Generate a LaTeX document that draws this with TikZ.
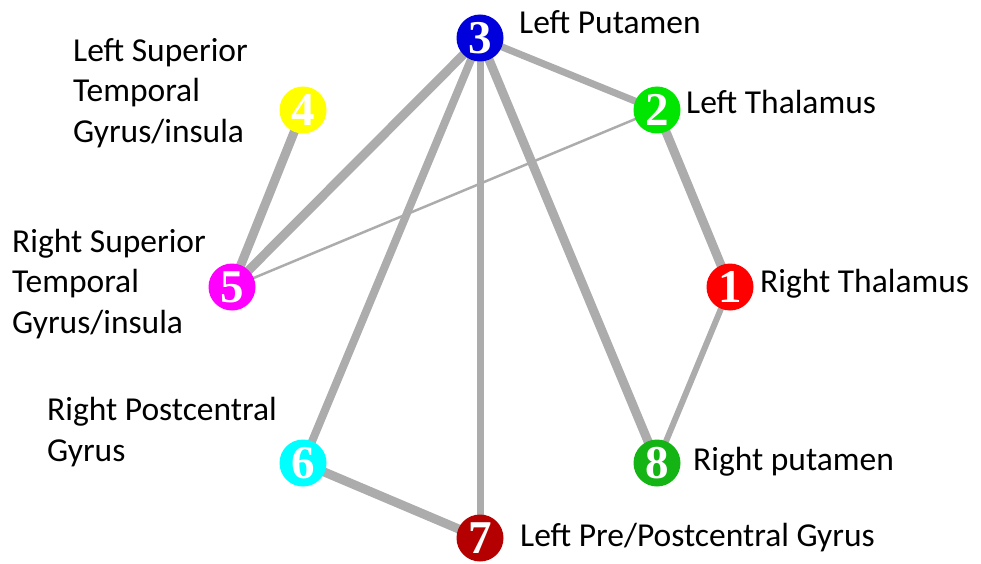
\documentclass[tikz,border=0pt]{standalone}
\usepackage{fontspec}
\usetikzlibrary{backgrounds}
\setmainfont{Carlito}
\newfontfamily\numfont{Liberation Serif}
\definecolor{edgegray}{RGB}{172,172,172}
\definecolor{cblue}{RGB}{0,0,220}
\definecolor{cgreenA}{RGB}{0,230,0}
\definecolor{cgreenB}{RGB}{20,180,20}
\definecolor{cyellow}{RGB}{255,255,0}
\definecolor{cmagenta}{RGB}{255,0,255}
\definecolor{cred}{RGB}{255,0,0}
\definecolor{ccyan}{RGB}{0,255,255}
\definecolor{cdarkred}{RGB}{180,0,0}
\tikzset{
  vtx/.style={circle, minimum size=47pt, inner sep=0pt, fill=#1, text=white,
    font=\numfont\bfseries\fontsize{47}{47}\selectfont},
  lbl/.style={anchor=west, align=left, inner sep=0pt,
    font=\fontsize{33.5}{40.5}\selectfont, text=black},
  edge/.style={draw=edgegray, line width=#1}
}
\begin{document}
\begin{tikzpicture}[x=1pt,y=-1pt]
\useasboundingbox (0,0) rectangle (981,564);
% nodes
\node[vtx=cred]     (n1) at (730,287) {1};
\node[vtx=cgreenA]  (n2) at (657,110) {2};
\node[vtx=cblue]    (n3) at (480,38)  {3};
\node[vtx=cyellow]  (n4) at (303,110) {4};
\node[vtx=cmagenta] (n5) at (232,287) {5};
\node[vtx=ccyan]    (n6) at (303,463) {6};
\node[vtx=cdarkred] (n7) at (480,538) {7};
\node[vtx=cgreenB]  (n8) at (657,463) {8};
% edges (behind nodes)
\begin{scope}[on background layer]
\draw[edge=9pt] (n3.center) -- (n5.center);
\draw[edge=8pt] (n3.center) -- (n6.center);
\draw[edge=7pt] (n3.center) -- (n7.center);
\draw[edge=9pt] (n3.center) -- (n8.center);
\draw[edge=7pt] (n3.center) -- (n2.center);
\draw[edge=9pt] (n2.center) -- (n1.center);
\draw[edge=2.5pt] (n2.center) -- (n5.center);
\draw[edge=9pt] (n4.center) -- (n5.center);
\draw[edge=6pt] (n1.center) -- (n8.center);
\draw[edge=9pt] (n6.center) -- (n7.center);
\end{scope}
% labels
\node[lbl] (l3) at (519,22)  {Left Putamen};
\node[lbl] (l2) at (686,102) {Left Thalamus};
\node[lbl] (l1) at (760,284) {Right Thalamus};
\node[lbl] (l8) at (693,462) {Right putamen};
\node[lbl] (l7) at (520,538) {Left Pre/Postcentral Gyrus};
\node[lbl] (l4) at (73,93)   {Left Superior\\Temporal\\Gyrus/insula};
\node[lbl] (l5) at (12,284)  {Right Superior\\Temporal\\Gyrus/insula};
\node[lbl] (l6) at (47,432)  {Right Postcentral\\Gyrus};
\end{tikzpicture}
\end{document}
